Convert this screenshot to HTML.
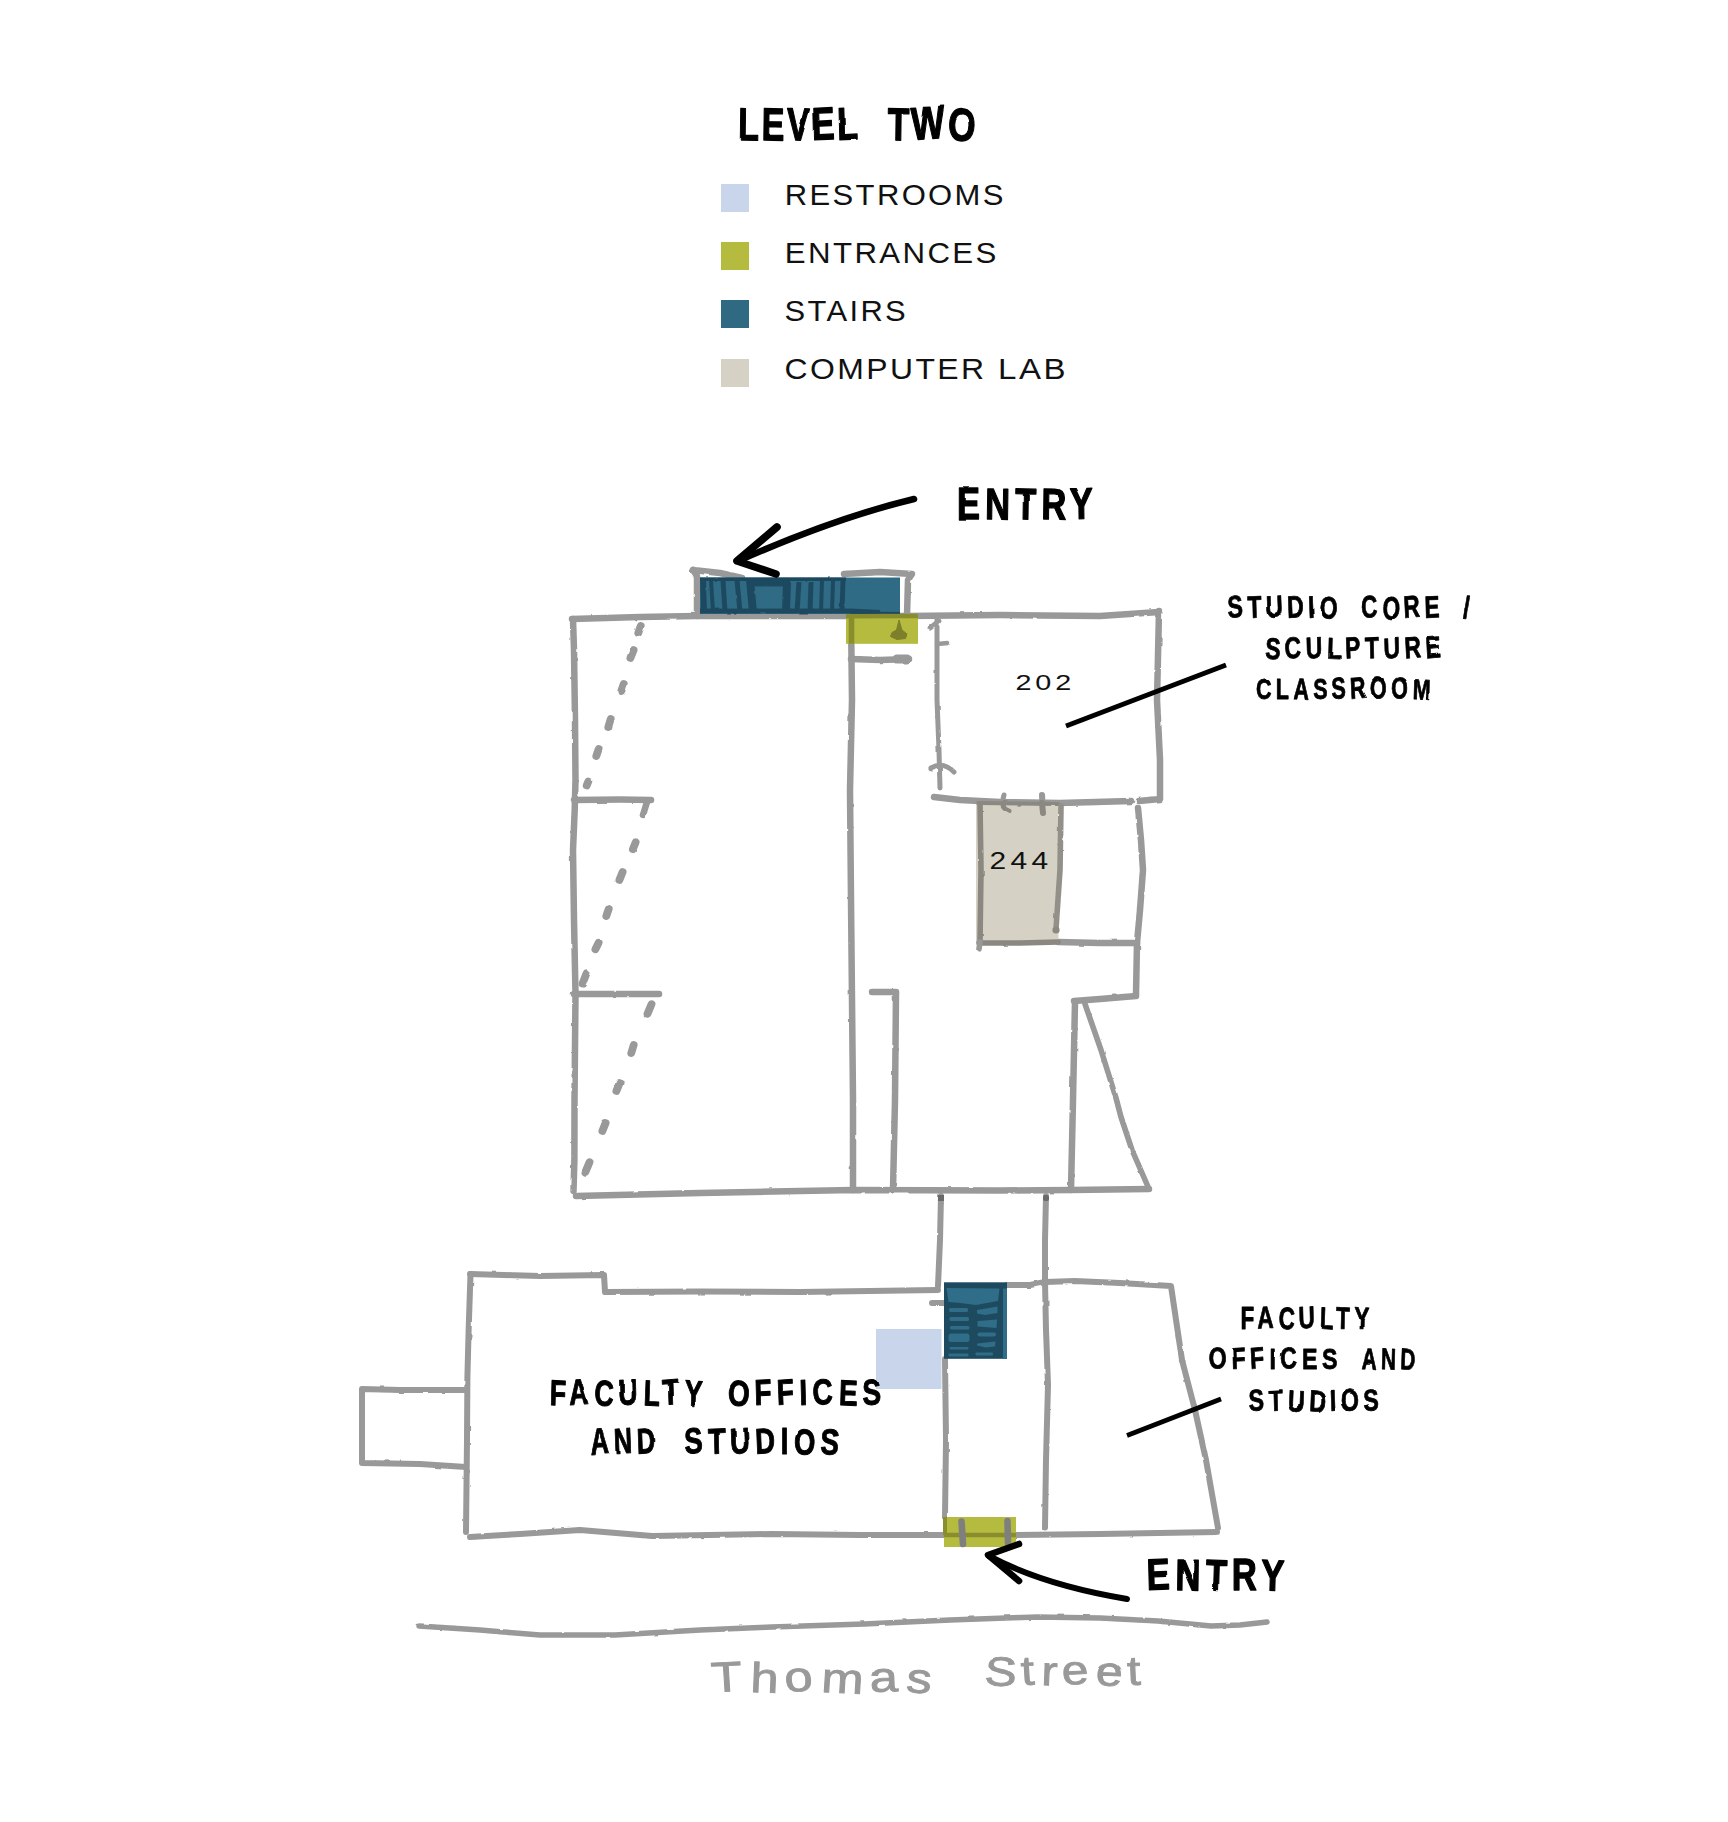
<!DOCTYPE html>
<html lang="en">
<head>
<meta charset="utf-8">
<title>Level Two</title>
<style>
html,body{margin:0;padding:0;background:#fff;}
body{width:1728px;height:1822px;overflow:hidden;}
svg{display:block;position:absolute;left:0;top:0;}
.leg{font-family:"Liberation Sans",sans-serif;font-size:29px;fill:#111;letter-spacing:3.7px;}
.num{font-family:"Liberation Sans",sans-serif;fill:#111;}
.hand{font-family:"Liberation Sans",sans-serif;font-weight:bold;fill:#000;}
.street{font-family:"Liberation Sans",sans-serif;fill:#999999;}
.g{fill:none;stroke:#999999;stroke-width:6.5;stroke-linecap:round;stroke-linejoin:round;}
.g2{fill:none;stroke:#999999;stroke-width:6;stroke-linecap:round;stroke-linejoin:round;}
.k{fill:none;stroke:#000;stroke-linecap:round;stroke-linejoin:round;}
</style>
</head>
<body>
<svg width="1728" height="1822" viewBox="0 0 1728 1822">
<defs>
<filter id="rough" filterUnits="userSpaceOnUse" x="0" y="0" width="1728" height="1822">
<feTurbulence type="fractalNoise" baseFrequency="0.09" numOctaves="2" seed="4"/>
<feColorMatrix type="matrix" values="1 0 0 0 0  0 1 0 0 0  0 0 1 0 0  0 0 0 0 1" result="n"/>
<feDisplacementMap in="SourceGraphic" in2="n" scale="2.2" xChannelSelector="R" yChannelSelector="G"/>
</filter>
<filter id="wob" filterUnits="userSpaceOnUse" x="0" y="0" width="1728" height="1822">
<feTurbulence type="fractalNoise" baseFrequency="0.045" numOctaves="1" seed="9"/>
<feColorMatrix type="matrix" values="1 0 0 0 0  0 1 0 0 0  0 0 1 0 0  0 0 0 0 1" result="n"/>
<feDisplacementMap in="SourceGraphic" in2="n" scale="2.4" xChannelSelector="R" yChannelSelector="G"/>
</filter>
</defs>
<rect x="0" y="0" width="1728" height="1822" fill="#fff"/>

<!-- LEGEND -->
<g id="legend">
<rect x="721" y="184" width="28" height="28" fill="#c9d5ea"/>
<rect x="721" y="242" width="28" height="28" fill="#b5bb3e"/>
<rect x="721" y="300" width="28" height="28" fill="#306982"/>
<rect x="721" y="359" width="28" height="28" fill="#d5d1c4"/>
<text class="leg" x="784.8" y="204.7" style="letter-spacing:2.2px" textLength="221" lengthAdjust="spacingAndGlyphs">RESTROOMS</text>
<text class="leg" x="784.8" y="262.6" style="letter-spacing:2.2px" textLength="214" lengthAdjust="spacingAndGlyphs">ENTRANCES</text>
<text class="leg" x="784.6" y="321" style="letter-spacing:2.2px" textLength="123.5" lengthAdjust="spacingAndGlyphs">STAIRS</text>
<text class="leg" x="786" y="379.3" style="letter-spacing:2.2px"><tspan x="784.5" textLength="202" lengthAdjust="spacingAndGlyphs">COMPUTER</tspan> <tspan x="998" textLength="70" lengthAdjust="spacingAndGlyphs">LAB</tspan></text>
</g>

<!-- PLAN-LINES -->
<g id="upper" class="g" filter="url(#rough)">
<!-- top edge and room 202 -->
<path d="M572,619 L640,617 L697,616 L851,616 L908,616 L1000,615 L1100,616 L1159,612"/>
<path d="M1159,611 L1157,700 L1160,760 L1160,799 L1139,801"/>
<!-- left wall -->
<path d="M573,619 L574,650 L575,720 L575.5,780 L574.7,810 L573,850 L574,920 L575.5,994 L574.5,1100 L574.4,1160 L573.5,1191"/>
<!-- bottom -->
<path d="M576,1196 L700,1193 L853,1190 L1000,1190.5 L1071,1190 L1149,1189"/>
<!-- stair outline -->
<path d="M693,570 L697,576 L697,616"/>
<path d="M693,570 L720,573 L742,578"/>
<path d="M844,574 L880,572 L912,574 L908,580 L907,616"/>
<!-- centre wall -->
<path d="M851,616 L852,700 L850,790 L851,900 L852,1000 L853,1100 L853,1190"/>
<path d="M851,659 L880,660 L909,659"/>
<path d="M897,659 L907,659" stroke-width="9"/>
<!-- 202 left wall -->
<path d="M937,618 L937,700 L939,750 L940,788" stroke-width="5"/>
<path d="M930,628 L939,621" stroke-width="5"/>
<path d="M937,644 L948,643" stroke-width="4.5"/>
<path d="M931,768 Q943,761 954,772" stroke-width="5"/>
<!-- 202 bottom -->
<path d="M934,797 L960,800 L1000,802 L1060,803 L1131,801"/>
<!-- lab -->
<path d="M1004,795 Q1000,808 1009,811" stroke-width="5"/>
<path d="M1042,795 L1043,813" stroke-width="6"/>
<!-- right small room -->
<path d="M1138,808 L1141,840 L1143,870 L1140,910 L1137,943 L1136,995"/>
<path d="M1058,942 L1100,943 L1137,943"/>
<path d="M1136,996 L1100,999 L1074,1001"/>
<path d="M1075,1002 L1073,1100 L1071,1190"/>
<path d="M1085,1004 L1101,1050 L1116,1098 L1121,1117 L1132,1150 L1149,1189" stroke-width="5.6"/>
<!-- left partitions -->
<path d="M574,800 L620,799.6 L651,800"/>
<path d="M647,802 L643,815" stroke-width="6.5"/>
<path d="M574,994 L620,994 L659,994"/>
<!-- second vertical -->
<path d="M872,992 L896,992"/>
<path d="M896,993 L895,1100 L893,1190"/>
<!-- dashes -->
<g stroke-width="7.8">
<path d="M640.7,625.9 L638.3,633.1"/><path d="M633.6,650.0 L630.4,658.0"/><path d="M623.7,683.9 L621.3,691.1"/>
<path d="M610.7,719.0 L608.3,727.0"/><path d="M598.7,748.9 L596.3,756.1"/><path d="M588.3,781.5 L586.7,785.5"/>
<path d="M635.6,842.4 L632.9,849.1"/><path d="M622.6,872.0 L619.4,880.0"/><path d="M608.7,908.9 L606.3,916.1"/>
<path d="M598.6,942.8 L595.4,949.2"/><path d="M586.5,973.3 L582.5,983.7"/>
<path d="M651.5,1004.2 L647.5,1013.8"/><path d="M633.7,1045.0 L631.3,1053.0"/><path d="M619.6,1083.0 L616.4,1091.0"/>
<path d="M605.6,1123.0 L602.4,1131.0"/><path d="M589.5,1162.2 L585.5,1171.8"/>
</g>
</g>
<g id="conn" class="g2" filter="url(#rough)">
<path d="M941,1196 L940,1240 L938,1286"/>
<path d="M1046,1196 L1045,1240 L1045,1282"/>
</g>
<rect x="938" y="1195" width="6" height="6" fill="#6a6a6a"/>
<rect x="1043" y="1195" width="6" height="6" rx="2" fill="#6a6a6a"/>
<g id="lower" class="g2" filter="url(#rough)">
<path d="M470,1274 L540,1276 L604,1275 L605,1292 L700,1291.5 L800,1292 L938,1290"/>
<path d="M470.5,1274 L468.6,1331 L467.4,1377 L467,1440 L466,1532"/>
<path d="M470,1537 L520,1534 L580,1530 L652,1536 L772,1534 L860,1535 L944,1535 L1016,1535 L1100,1534 L1217,1532"/>
<path d="M1007,1285 L1030,1285 L1045,1282 L1075,1281 L1120,1283 L1171,1286 L1182,1360 L1195,1410 L1206,1460 L1218,1528"/>
<path d="M466,1390 L400,1390 L362,1389 L362,1430 L362,1463 L420,1464 L466,1467"/>
<path d="M945,1359 L946,1440 L945,1517"/>
<path d="M1045,1281 L1046,1330 L1048,1385 L1046,1460 L1045,1527.5"/>
<path d="M932,1303 L944,1303"/>
</g>
<g id="street" class="g2" filter="url(#rough)">
<path d="M419,1626 L480,1630 L540,1635 L615,1635 L700,1630 L772,1627 L864,1624 L950,1620 L1037,1617 L1100,1618 L1158,1621 L1211,1626 L1240,1625 L1267,1622" stroke-width="5.5"/>
</g>

<!-- COLOR-BLOCKS -->
<g id="blocks">
<!-- computer lab -->
<rect x="976" y="802" width="82.5" height="140.5" fill="#d5d1c4"/>
<g fill="none" stroke="#8b8881" stroke-width="5.6" stroke-linecap="round" stroke-linejoin="round" filter="url(#rough)">
<path d="M980,804 L981,870 L980,942"/>
<path d="M978,803 L1058,804" stroke-width="4"/>
<path d="M979,943 L1020,943 L1058,942"/>
<path d="M1004,803 Q1001,808 1009,811" stroke-width="5"/>
<path d="M1042,803 L1043,813" stroke-width="6"/>
</g>
<g fill="none" stroke="#999999" stroke-width="5.6" stroke-linecap="round" filter="url(#rough)">
<path d="M980,942 L979,949"/>
<path d="M1061,806 L1060,870 L1056,929" stroke="#929089"/>
</g>
<circle cx="1056" cy="930" r="3.6" fill="#8b8881"/>
<!-- restroom -->
<rect x="876" y="1329" width="65.5" height="60" fill="#c9d5ea"/>
<!-- stairs 1 -->
<rect x="700" y="577.5" width="200" height="36.5" fill="#306b86"/>
<g fill="none" stroke="#1e4a5e" stroke-linecap="butt" filter="url(#rough)">
<path d="M700,579.3 L846,579.3" stroke-width="3.6"/>
<path d="M700,611 L850,611 L880,612.5" stroke-width="5"/>
<path d="M850,612.5 L900,613" stroke-width="2"/>
<path d="M703,578 L704,613" stroke-width="6"/>
<path d="M711,580 L713,612" stroke-width="4"/>
<path d="M723,580 L725,612" stroke-width="5"/>
<path d="M737,580 L740,612" stroke-width="5"/>
<path d="M750,580 L753,612" stroke-width="8"/>
<path d="M752,583 L790,583" stroke-width="7"/>
<path d="M787,582 L786,612" stroke-width="8"/>
<path d="M799,582 L797,612" stroke-width="5"/>
<path d="M811,582 L810,612" stroke-width="5"/>
<path d="M822,581 L821,612" stroke-width="4"/>
<path d="M833,581 L832,612" stroke-width="4"/>
<path d="M843,580 L842,612" stroke-width="5"/>
</g>
<!-- stairs 2 -->
<rect x="944" y="1282.3" width="63" height="76.5" fill="#1d4a5e"/>
<g fill="#2f6d88">
<path d="M946.5,1288 L999.5,1288.5 L998,1301 L976,1305 L960,1303 L948.5,1302 Z"/>
<rect x="1003" y="1288.5" width="4" height="70.3"/>
<rect x="949" y="1308" width="19" height="4" rx="1.5"/>
<rect x="949.5" y="1317" width="19.5" height="4" rx="1.5"/>
<rect x="950" y="1326" width="19.5" height="3.5" rx="1.5"/>
<rect x="948.5" y="1333.5" width="21" height="8.5" rx="2.5"/>
<rect x="949.5" y="1347" width="19" height="2.4" rx="1"/>
<rect x="948.5" y="1353.5" width="20" height="3" rx="1"/>
<path d="M977,1310 L997.5,1306.5 L997.5,1313 L985,1315 L977,1313.5 Z"/>
<path d="M977.5,1321 L997,1319.5 L996.5,1328 L977.5,1326.5 Z"/>
<rect x="977.5" y="1332.5" width="18.5" height="4" rx="2"/>
<path d="M977,1343.5 L995.5,1341.5 L995,1346.5 L986,1347.5 L977,1345.5 Z"/>
<rect x="975.5" y="1352.5" width="17.5" height="3" rx="1"/>
</g>
<!-- entrances -->
<rect x="846" y="614.2" width="72" height="29.6" fill="#b5bb3e"/>
<g fill="none" stroke="#898d2e" stroke-width="5.6" stroke-linecap="butt">
<path d="M851.5,616 L851.5,643.8"/>
<path d="M846,616.3 L918,616" stroke-width="4.4"/>
</g>
<path d="M899,620 L902,630 L907,634 L905.5,638.5 L897,639.5 L890.5,636.5 L892,632.5 L896.5,630 Z" fill="#7d7f2b" stroke="#7d7f2b" stroke-width="1" stroke-linejoin="round"/>
<rect x="944" y="1517" width="72" height="30" fill="#b5bb3e"/>
<g fill="none" stroke="#898d2e" stroke-linecap="butt">
<path d="M944,1535 L1016,1535" stroke-width="4.6"/>
<path d="M945,1517 L945,1535" stroke-width="4"/>
</g>
<g fill="none" stroke="#7f7f7f" stroke-width="6.6" stroke-linecap="round">
<path d="M961.5,1521.5 L963,1544"/>
<path d="M1007.5,1521 L1008,1543"/>
</g>
</g>

<!-- LABELS -->
<g id="arrows" class="k">
<path d="M914,499 Q835,518 738,561" stroke-width="6.6"/>
<path d="M777,527 L737,561 L776,574" stroke-width="7.6"/>
<path d="M1127,1599 Q1043,1585 989,1556" stroke-width="6"/>
<path d="M1019,1544 L988,1555 L1019,1581" stroke-width="6.6"/>
<path d="M1066,726 L1226,665" stroke-width="5" stroke-linecap="butt"/>
<path d="M1127,1435.5 L1221,1399" stroke-width="4.6" stroke-linecap="butt"/>
</g>
<g id="labels">
<text class="num" x="1015.5" y="690" font-size="22.5" style="letter-spacing:3px" textLength="59.5" lengthAdjust="spacingAndGlyphs">202</text>
<!-- HAND-START -->
<text class="hand" y="140" font-size="46" style="letter-spacing:3.5px" stroke="#000" stroke-width="1.3" stroke-linejoin="round" filter="url(#wob)"><tspan x="738" textLength="122.3" lengthAdjust="spacingAndGlyphs" rotate="1 1 1 -2 -2">LEVEL</tspan> <tspan x="887.5" textLength="90.4" lengthAdjust="spacingAndGlyphs" rotate="1 -3 2">TWO</tspan></text>
<text class="hand" y="519" font-size="44" style="letter-spacing:6.5px" stroke="#000" stroke-width="1.3" stroke-linejoin="round" filter="url(#wob)"><tspan x="957" textLength="141.1" lengthAdjust="spacingAndGlyphs" rotate="0 1 1 1 -1">ENTRY</tspan></text>
<text class="hand" y="1590" font-size="44" style="letter-spacing:6.5px" stroke="#000" stroke-width="1.3" stroke-linejoin="round" filter="url(#wob)"><tspan x="1147" textLength="142.1" lengthAdjust="spacingAndGlyphs" rotate="-2 1 2 0 2">ENTRY</tspan></text>
<text class="hand" y="618" font-size="31" style="letter-spacing:6px" stroke="#000" stroke-width="0.8" stroke-linejoin="round" filter="url(#wob)"><tspan x="1228" textLength="113.9" lengthAdjust="spacingAndGlyphs" rotate="-4 -2 -3 -3 -3 2">STUDIO</tspan> <tspan x="1361.5" textLength="82.6" lengthAdjust="spacingAndGlyphs" rotate="-3 3 -4 -2">CORE</tspan> <tspan x="1463" textLength="11.0" lengthAdjust="spacingAndGlyphs" rotate="2">/</tspan></text>
<text class="hand" y="658.5" font-size="30" style="letter-spacing:6px" stroke="#000" stroke-width="0.8" stroke-linejoin="round" filter="url(#wob)"><tspan x="1265" textLength="180.8" lengthAdjust="spacingAndGlyphs" rotate="3 -2 -2 2 -3 -2 -2 -4 -4">SCULPTURE</tspan></text>
<text class="hand" y="699" font-size="30" style="letter-spacing:6px" stroke="#000" stroke-width="0.8" stroke-linejoin="round" filter="url(#wob)"><tspan x="1256" textLength="178.7" lengthAdjust="spacingAndGlyphs" rotate="0 0 2 0 -3 -4 -3 -3 2">CLASSROOM</tspan></text>
<text class="hand" y="1405" font-size="36" style="letter-spacing:7px" stroke="#000" stroke-width="1.0" stroke-linejoin="round" filter="url(#wob)"><tspan x="549.5" textLength="157.3" lengthAdjust="spacingAndGlyphs" rotate="2 -3 3 -2 3 -3 3">FACULTY</tspan> <tspan x="727.5" textLength="159.4" lengthAdjust="spacingAndGlyphs" rotate="3 -2 -3 -2 -3 2 -2">OFFICES</tspan></text>
<text class="hand" y="1454" font-size="36" style="letter-spacing:7px" stroke="#000" stroke-width="1.0" stroke-linejoin="round" filter="url(#wob)"><tspan x="591" textLength="69.5" lengthAdjust="spacingAndGlyphs" rotate="-3 -3 -3">AND</tspan> <tspan x="685" textLength="158.8" lengthAdjust="spacingAndGlyphs" rotate="-4 -2 -3 -3 0 2 2">STUDIOS</tspan></text>
<text class="hand" y="1328.5" font-size="31" style="letter-spacing:6px" stroke="#000" stroke-width="0.8" stroke-linejoin="round" filter="url(#wob)"><tspan x="1240.6" textLength="132.8" lengthAdjust="spacingAndGlyphs" rotate="0 -2 3 -2 3 2 2">FACULTY</tspan></text>
<text class="hand" y="1369" font-size="30" style="letter-spacing:6px" stroke="#000" stroke-width="0.8" stroke-linejoin="round" filter="url(#wob)"><tspan x="1209" textLength="133.2" lengthAdjust="spacingAndGlyphs" rotate="-3 -2 -4 0 -3 0 0">OFFICES</tspan> <tspan x="1361.5" textLength="57.7" lengthAdjust="spacingAndGlyphs" rotate="2 2 3">AND</tspan></text>
<text class="hand" y="1411" font-size="30" style="letter-spacing:6px" stroke="#000" stroke-width="0.8" stroke-linejoin="round" filter="url(#wob)"><tspan x="1249" textLength="134.8" lengthAdjust="spacingAndGlyphs" rotate="-3 -2 3 3 -3 -2 -3">STUDIOS</tspan></text>
<!-- HAND-END -->
<text class="num" x="989.5" y="869" font-size="24" style="letter-spacing:3.5px" textLength="63" lengthAdjust="spacingAndGlyphs">244</text>





<text class="street" x="712" y="1692" font-size="42" style="letter-spacing:6px" stroke="#999999" stroke-width="0.9" textLength="226" lengthAdjust="spacingAndGlyphs" rotate="-3 2 -4 3 -2 4" filter="url(#wob)">Thomas</text>
<text class="street" x="984" y="1685" font-size="41" style="letter-spacing:5px" stroke="#999999" stroke-width="0.9" textLength="163" lengthAdjust="spacingAndGlyphs" rotate="3 -3 2 -4 3 -2" filter="url(#wob)">Street</text>
</g>

</svg>
</body>
</html>
